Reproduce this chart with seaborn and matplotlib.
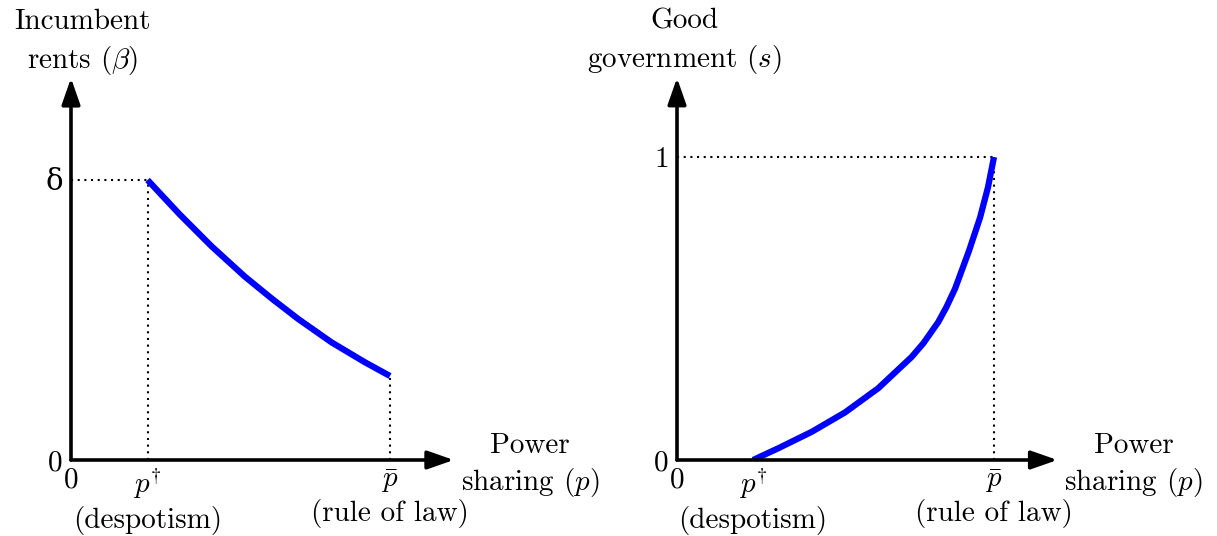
import matplotlib
matplotlib.use("Agg")
import matplotlib.pyplot as plt
import seaborn as sns
import pandas as pd

# ---- data ----
p_dagger = 0.24
p_bar = 1.0
delta = 1.0
beta_at_pbar = 0.30

p_left = [0.24, 0.34, 0.44, 0.545, 0.63, 0.713, 0.817, 0.92, 1.0]
beta_vals = [1.0, 0.878, 0.764, 0.655, 0.576, 0.503, 0.42, 0.35, 0.30]

p_right = [0.24, 0.32, 0.425, 0.53, 0.635, 0.74, 0.777, 0.824, 0.85, 0.877,
           0.921, 0.956, 0.981, 1.0]
s_vals = [0.0, 0.039, 0.093, 0.157, 0.237, 0.340, 0.385, 0.455, 0.505, 0.565,
          0.690, 0.800, 0.900, 1.0]

x_tick_labels = ["0", "$p^{\\dagger}$\n(despotism)", "$\\bar{p}$\n(rule of law)"]
left_ytick_labels = ["0", "δ"]
right_ytick_labels = ["0", "1"]

sns.set_theme(style="white")
plt.rcParams["font.family"] = ["cmr10", "DejaVu Serif"]
plt.rcParams["mathtext.fontset"] = "cm"
plt.rcParams["axes.formatter.use_mathtext"] = True
plt.rcParams["text.color"] = "black"
plt.rcParams["xtick.color"] = "black"
plt.rcParams["ytick.color"] = "black"

W, H = 1217, 536
fig = plt.figure(figsize=(W / 100, H / 100), dpi=100)

FS = 21
BLUE = "#0000ff"


def make_axes(x0, y0, xunit, yunit, xmax, ymax):
    ax = fig.add_axes([x0 / W, (H - y0) / H, xmax * xunit / W, ymax * yunit / H])
    ax.set_xlim(0, xmax)
    ax.set_ylim(0, ymax)
    for sp in ax.spines.values():
        sp.set_visible(False)
    ax.patch.set_alpha(0)
    ax.tick_params(length=0, labelsize=FS, labelcolor="black")
    arrow = dict(arrowstyle="-|>,head_length=0.8,head_width=0.28", lw=2.6,
                 color="black", shrinkA=0, shrinkB=0, mutation_scale=20)
    ax.annotate("", xy=(xmax, 0), xytext=(0, 0), arrowprops=arrow,
                annotation_clip=False)
    ax.annotate("", xy=(0, ymax), xytext=(0, 0), arrowprops=arrow,
                annotation_clip=False)
    return ax


dot = dict(color="black", ls=(0, (1, 2.2)), lw=1.5)

# ---- left panel ----
axL = make_axes(71, 460, 319, 280, 1.2, 1.364)
axL.plot([0, p_dagger], [delta, delta], **dot)
axL.plot([p_dagger, p_dagger], [0, delta], **dot)
axL.plot([p_bar, p_bar], [0, beta_at_pbar], **dot)
dfL = pd.DataFrame({"p": p_left, "beta": beta_vals})
sns.lineplot(data=dfL, x="p", y="beta", ax=axL, color=BLUE, lw=4.5,
             estimator=None, sort=True, solid_capstyle="butt", solid_joinstyle="round")
axL.set_xticks([0, p_dagger, p_bar], x_tick_labels)
axL.set_yticks([0, delta], left_ytick_labels)
axL.set_xlabel("")
axL.set_ylabel("")
axL.tick_params(axis="x", pad=5)
axL.tick_params(axis="y", pad=6)
axL.text(0.035, 1.49, "Incumbent\nrents ($\\beta$)", ha="center", va="center",
         fontsize=FS, linespacing=1.35, transform=axL.transData)
axL.text(1.44, -0.02, "Power\nsharing ($p$)", ha="center", va="center",
         fontsize=FS, linespacing=1.3, transform=axL.transData)

# ---- right panel ----
axR = make_axes(677, 460, 317, 303, 1.2, 1.261)
axR.plot([0, p_bar], [1, 1], **dot)
axR.plot([p_bar, p_bar], [0, 1], **dot)
dfR = pd.DataFrame({"p": p_right, "s": s_vals})
sns.lineplot(data=dfR, x="p", y="s", ax=axR, color=BLUE, lw=4.5,
             estimator=None, sort=True, solid_capstyle="butt", solid_joinstyle="round")
axR.set_xticks([0, p_dagger, p_bar], x_tick_labels)
axR.set_yticks([0, 1], right_ytick_labels)
axR.set_xlabel("")
axR.set_ylabel("")
axR.tick_params(axis="x", pad=5)
axR.tick_params(axis="y", pad=6)
axR.text(0.025, 1.38, "Good\ngovernment ($s$)", ha="center", va="center",
         fontsize=FS, linespacing=1.35, transform=axR.transData)
axR.text(1.44, -0.018, "Power\nsharing ($p$)", ha="center", va="center",
         fontsize=FS, linespacing=1.3, transform=axR.transData)

fig.savefig("out.png", dpi=100)
